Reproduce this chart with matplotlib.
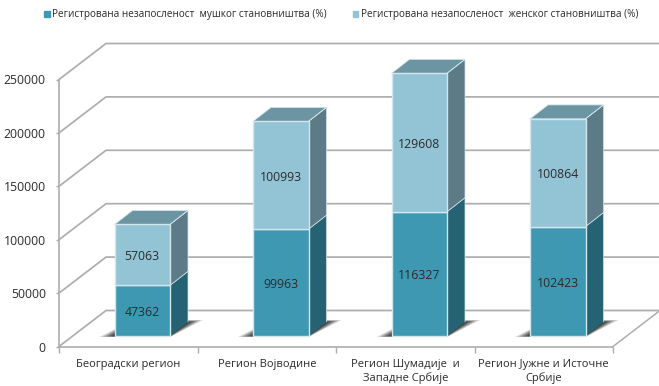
"""Stacked pseudo-3D column chart: registered unemployment by region and sex."""

import matplotlib
matplotlib.use("Agg")
import matplotlib.pyplot as plt
from matplotlib.patches import Polygon
import numpy as np

plt.rcParams["font.family"] = ["Open Sans", "Noto Sans", "DejaVu Sans"]

# ── data ─────────────────────────────────────────────────────────────────────

regions = [
    "Београдски регион",
    "Регион Војводине",
    "Регион Шумадије  и\nЗападне Србије",
    "Регион Јужне и Источне\nСрбије",
]
male = [47362, 99963, 116327, 102423]
female = [57063, 100993, 129608, 100864]
male_label = "Регистрована незапосленост  мушког становништва (%)"
female_label = "Регистрована незапосленост  женског становништва (%)"
y_ticks = [0, 50000, 100000, 150000, 200000, 250000]

# ── colors ───────────────────────────────────────────────────────────────────

MALE_FRONT = "#3f98b2"
MALE_SIDE = "#256274"
FEMALE_FRONT = "#93c4d6"
FEMALE_SIDE = "#5d7b87"
TOP = "#6c95a3"
EDGE = "#d3e6ec"
GRID = "#adadad"
TEXT = "#2b2b2b"

# ── figure ───────────────────────────────────────────────────────────────────

W, H = 659, 386
fig = plt.figure(figsize=(W / 100, H / 100), dpi=100, facecolor="white")
ax = fig.add_axes([59 / W, 1 - 346.5 / H, 554 / W, 267 / H])
ax.set_xlim(0, 4)
ax.set_ylim(0, 250000)

# pixel sizes turned into data units
PX_X = 4 / 554
PX_Y = 250000 / 267
wall_dx, wall_dy = 47 * PX_X, 36 * PX_Y
bar_dx, bar_dy = 18 * PX_X, 14 * PX_Y
shift_x, shift_y = 14 * PX_X, 10.5 * PX_Y
bar_w = 55.5 * PX_X

for spine in ("top", "right"):
    ax.spines[spine].set_visible(False)
for spine in ("left", "bottom"):
    ax.spines[spine].set_color(GRID)
    ax.spines[spine].set_linewidth(1.2)

# ── walls and floor ──────────────────────────────────────────────────────────

for v in y_ticks:
    ax.plot([0, wall_dx, 4 + wall_dx], [v, v + wall_dy, v + wall_dy],
            color=GRID, lw=1.25, clip_on=False, zorder=1)
ax.plot([4, 4 + wall_dx], [0, wall_dy], color=GRID, lw=1.1, clip_on=False, zorder=1)

# ── bars ─────────────────────────────────────────────────────────────────────

x = np.arange(len(regions)) + 0.5 + shift_x
male_a = np.array(male)
female_a = np.array(female)
total = male_a + female_a


def side_face(xc, y0, y1, color):
    xr = xc + bar_w / 2
    ax.add_patch(Polygon(
        [(xr, y0), (xr + bar_dx, y0 + bar_dy), (xr + bar_dx, y1 + bar_dy), (xr, y1)],
        closed=True, facecolor=color, edgecolor="none", zorder=4, clip_on=False,
    ))


# soft shadow on the floor, a few layered polygons
for xc in x:
    xl, xr = xc - bar_w / 2, xc + bar_w / 2
    for grow, alpha in zip((1.0, 0.8, 0.6, 0.4, 0.2), (0.18, 0.25, 0.32, 0.42, 0.55)):
        ext = grow * 15 * PX_X
        up = grow * 2 * PX_Y
        pts = [
            (xl - ext, shift_y - up * 0.5), (xr, shift_y - up * 0.5),
            (xr + bar_dx + ext, shift_y + bar_dy + up), (xl + bar_dx, shift_y + bar_dy + up),
        ]
        ax.add_patch(Polygon(pts, closed=True, facecolor="#303030", edgecolor="none",
                             alpha=alpha, zorder=2, clip_on=False))

ax.bar(x, male_a, width=bar_w, bottom=shift_y, color=MALE_FRONT,
       edgecolor=EDGE, linewidth=1, zorder=5, label=male_label, clip_on=False)
ax.bar(x, female_a, width=bar_w, bottom=shift_y + male_a, color=FEMALE_FRONT,
       edgecolor=EDGE, linewidth=1, zorder=5, label=female_label, clip_on=False)

label_drop = 2 * PX_Y
for i, xc in enumerate(x):
    side_face(xc, shift_y, shift_y + male_a[i], MALE_SIDE)
    side_face(xc, shift_y + male_a[i], shift_y + total[i], FEMALE_SIDE)
    xl, xr = xc - bar_w / 2, xc + bar_w / 2
    yt = shift_y + total[i]
    ax.add_patch(Polygon(
        [(xl, yt), (xr, yt), (xr + bar_dx, yt + bar_dy), (xl + bar_dx, yt + bar_dy)],
        closed=True, facecolor=TOP, edgecolor=EDGE, linewidth=0.6, zorder=4, clip_on=False,
    ))
    # thin light line down the back corner of the side
    ax.plot([xr, xr + bar_dx, xr + bar_dx], [yt, yt + bar_dy, shift_y + bar_dy],
            color=EDGE, lw=0.5, zorder=4, clip_on=False)
    ax.plot([xr, xr + bar_dx], [shift_y + male_a[i], shift_y + male_a[i] + bar_dy],
            color=EDGE, lw=0.6, zorder=4, clip_on=False)

    ax.text(xc, shift_y + male_a[i] / 2 - label_drop, str(male[i]), ha="center",
            va="center", fontsize=8.8, color=TEXT, zorder=6)
    ax.text(xc, shift_y + male_a[i] + female_a[i] / 2 - label_drop, str(female[i]),
            ha="center", va="center", fontsize=8.8, color=TEXT, zorder=6)

# ── axes text ────────────────────────────────────────────────────────────────

ax.set_yticks(y_ticks)
ax.set_yticklabels([str(v) for v in y_ticks], fontsize=8.8, color=TEXT)
ax.tick_params(axis="y", length=2, color=GRID, pad=7.5, width=1)

ax.set_xticks(range(5))
ax.set_xticklabels([])
ax.tick_params(axis="x", length=4, color=GRID, width=1)
for i, name in enumerate(regions):
    ax.text(i + 0.5, -11500, name, ha="center", va="top", fontsize=8,
            color=TEXT, linespacing=1.26, clip_on=False)

# ── legend ───────────────────────────────────────────────────────────────────

leg_y = 1 - 14.5 / H
for sq_x, txt_x, color, label in (
    (44, 52, MALE_FRONT, male_label),
    (352.5, 361, FEMALE_FRONT, female_label),
):
    fig.patches.append(plt.Rectangle((sq_x / W, leg_y - 2.5 / H), 5.5 / W, 5.5 / H,
                                     transform=fig.transFigure, color=color))
    fig.text(txt_x / W, leg_y, label, ha="left", va="center", fontsize=7.2, color=TEXT)

fig.savefig("out.png", dpi=100)
